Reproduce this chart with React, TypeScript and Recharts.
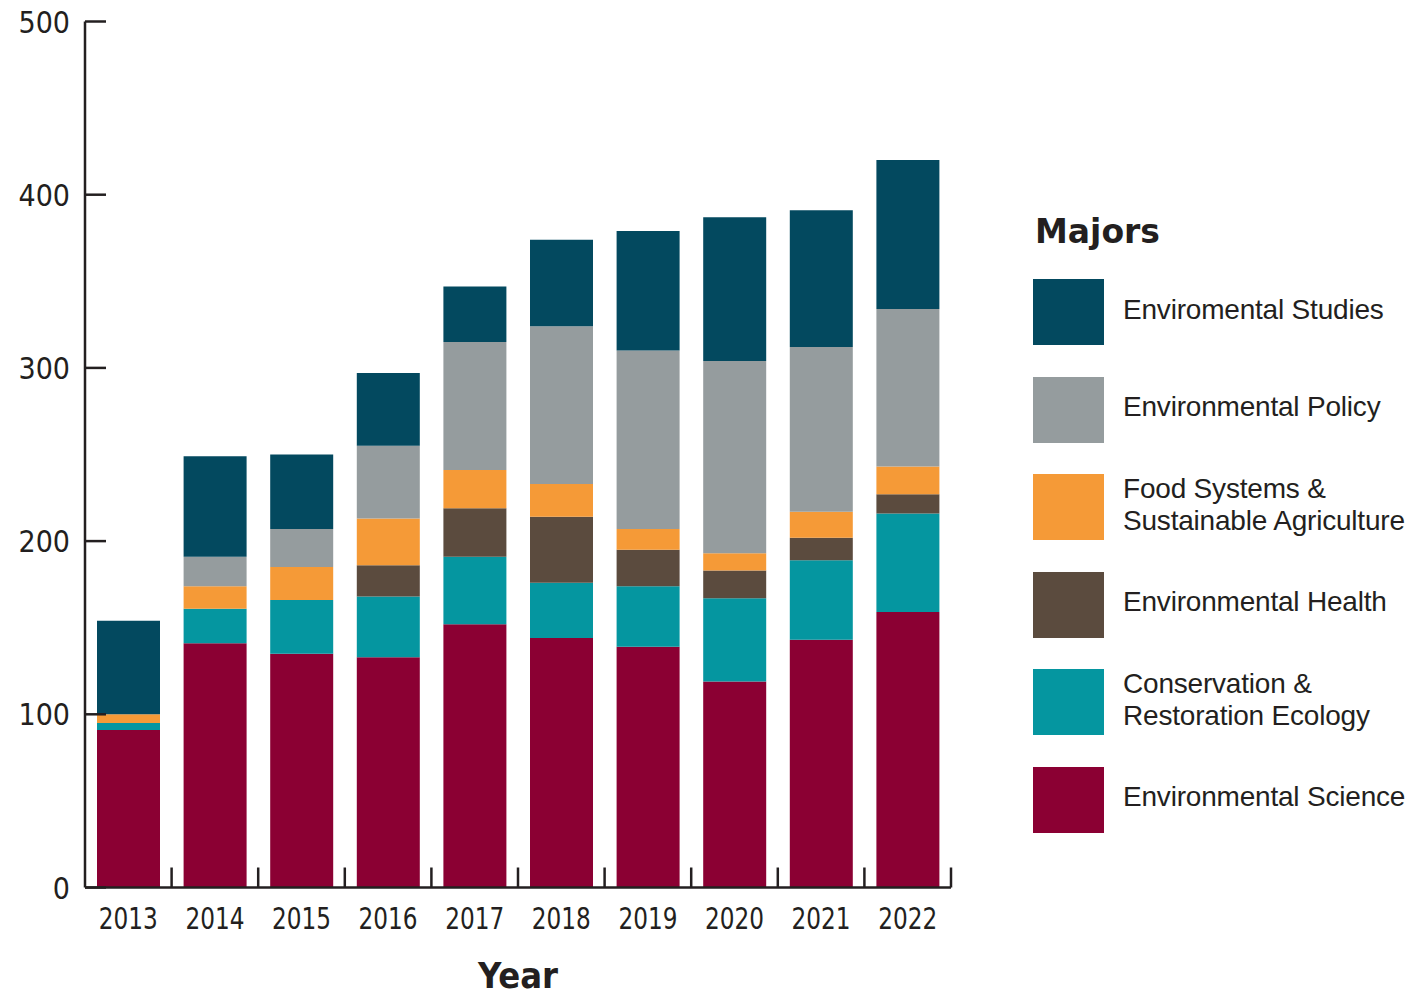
import React from 'react';
import { BarChart, Bar, XAxis, YAxis } from 'recharts';

const years = ['2013', '2014', '2015', '2016', '2017', '2018', '2019', '2020', '2021', '2022'];
const envScience = [91, 141, 135, 133, 152, 144, 139, 119, 143, 159];
const conservation = [4, 20, 31, 35, 39, 32, 35, 48, 46, 57];
const envHealth = [0, 0, 0, 18, 28, 38, 21, 16, 13, 11];
const foodSystems = [5, 13, 19, 27, 22, 19, 12, 10, 15, 16];
const envPolicy = [0, 17, 22, 42, 74, 91, 103, 111, 95, 91];
const envStudies = [54, 58, 43, 42, 32, 50, 69, 83, 79, 86];
const yTicks = [0, 100, 200, 300, 400, 500];

const series = [
  { key: 'science', name: 'Environmental Science', color: '#8B0033', values: envScience },
  { key: 'conservation', name: 'Conservation &\nRestoration Ecology', color: '#0596A0', values: conservation },
  { key: 'health', name: 'Environmental Health', color: '#5B4B3E', values: envHealth },
  { key: 'food', name: 'Food Systems &\nSustainable Agriculture', color: '#F59A37', values: foodSystems },
  { key: 'policy', name: 'Environmental Policy', color: '#959C9E', values: envPolicy },
  { key: 'studies', name: 'Enviromental Studies', color: '#03495F', values: envStudies },
];

const data = years.map((year, i) => {
  const row: Record<string, string | number> = { year };
  series.forEach((s) => {
    row[s.key] = s.values[i];
  });
  return row;
});

const INK = '#231F20';
const NARROW = '"DejaVu Sans Condensed", "DejaVu Sans", sans-serif';
const PLOT_LEFT = 85;
const PLOT_RIGHT = 951;
const HALF_BAND = (PLOT_RIGHT - PLOT_LEFT) / years.length / 2;

function XTick(props: any) {
  const { x, y, payload } = props;
  return (
    <g>
      <line x1={x + HALF_BAND} x2={x + HALF_BAND} y1={y} y2={y - 20} stroke={INK} strokeWidth={2.5} />
      <text
        transform={`translate(${x}, ${y + 41}) scale(0.86, 1)`}
        textAnchor="middle"
        fill={INK}
        fontSize={30}
        fontFamily={NARROW}
      >
        {payload.value}
      </text>
    </g>
  );
}

function YTick(props: any) {
  const { x, y, payload } = props;
  return (
    <g>
      <line x1={x} x2={x + 21} y1={y} y2={y} stroke={INK} strokeWidth={2.5} />
      <text x={x - 15} y={y + 11} textAnchor="end" fill={INK} fontSize={30} fontFamily={NARROW}>
        {payload.value}
      </text>
    </g>
  );
}

function MajorsLegend() {
  const items = [...series].reverse();
  return (
    <div
      style={{
        position: 'absolute',
        left: 1033,
        top: 0,
        width: 381,
        height: 997,
        fontFamily: '"Liberation Sans", Arial, sans-serif',
        color: INK,
      }}
    >
      <div
        style={{
          position: 'absolute',
          top: 210,
          left: 2,
          fontFamily: '"DejaVu Sans", sans-serif',
          fontWeight: 'bold',
          fontSize: 33,
          lineHeight: '44px',
        }}
      >
        Majors
      </div>
      {items.map((s, i) => (
        <div
          key={s.key}
          style={{
            position: 'absolute',
            top: 279 + i * 97.5,
            left: 0,
            display: 'flex',
            alignItems: 'center',
            height: 66,
          }}
        >
          <div style={{ width: 71, height: 66, background: s.color, flex: 'none' }} />
          <div
            style={{
              marginLeft: 19,
              marginTop: -5,
              fontSize: 28,
              lineHeight: '32px',
              whiteSpace: 'pre',
              letterSpacing: -0.2,
            }}
          >
            {s.name}
          </div>
        </div>
      ))}
    </div>
  );
}

export default function App() {
  return (
    <div style={{ position: 'absolute', left: 0, top: 0, width: 1414, height: 997, background: '#fff' }}>
      <BarChart
        width={1414}
        height={997}
        data={data}
        margin={{ top: 21.5, right: 1414 - PLOT_RIGHT, bottom: 0, left: 25 }}
        barSize={63}
      >
        <XAxis
          dataKey="year"
          height={109.5}
          tickSize={0}
          tickMargin={0}
          tickLine={false}
          axisLine={{ stroke: INK, strokeWidth: 2.5 }}
          tick={<XTick />}
          interval={0}
          label={{
            value: 'Year',
            position: 'insideBottom',
            offset: 9,
            fill: INK,
            fontSize: 36,
            fontWeight: 'bold',
            fontFamily: NARROW,
          }}
        />
        <YAxis
          width={60}
          domain={[0, 500]}
          ticks={yTicks}
          tickSize={0}
          tickMargin={0}
          tickLine={false}
          axisLine={{ stroke: INK, strokeWidth: 2.5 }}
          tick={<YTick />}
          interval={0}
        />
        {series.map((s) => (
          <Bar
            key={s.key}
            dataKey={s.key}
            name={s.name}
            stackId="majors"
            fill={s.color}
            isAnimationActive={false}
          />
        ))}
      </BarChart>
      <MajorsLegend />
    </div>
  );
}
